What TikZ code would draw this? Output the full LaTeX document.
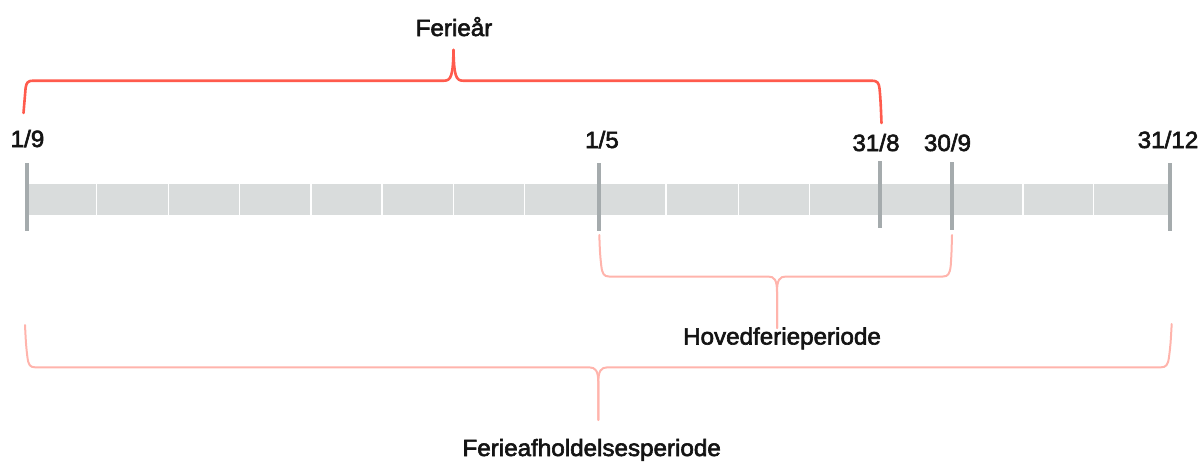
\documentclass[tikz,border=0pt]{standalone}
\usepackage{fontspec}
\setmainfont{Liberation Sans}[FakeBold=2.6, FakeStretch=1.03]
\definecolor{braceRed}{HTML}{FF5B4D}
\definecolor{bracePink}{HTML}{FFB4AC}
\definecolor{tickGray}{HTML}{A5ABAD}
\definecolor{barGray}{HTML}{D9DCDC}
\definecolor{labelInk}{HTML}{141414}
\tikzset{
  datelabel/.style={anchor=base, inner sep=0pt, text=labelInk,
    font=\fontsize{23.5}{28}\selectfont},
  periodlabel/.style={datelabel},
  tickmark/.style={draw=tickGray, line width=4.5pt},
  separator/.style={draw=white, line width=1.4pt},
  yearbrace/.style={draw=braceRed, line width=2.6pt, line cap=round, line join=round},
  periodbrace/.style={draw=bracePink, line width=2pt, line cap=round, line join=round},
}
\begin{document}
\begin{tikzpicture}[x=1pt, y=-1pt]
\useasboundingbox (0,0) rectangle (1200,461);

% timeline band
\fill[barGray] (27,184) rectangle (1170,215);
\foreach \sx in {96.5,168.5,239.5,311,382,453.5,524.5,666,738.5,809.5,1023,1093.5}
  \draw[separator] (\sx,184) -- (\sx,215);

% date ticks
\coordinate (d19t)  at (27,163);   \coordinate (d19b)  at (27,231);
\coordinate (d15t)  at (599,163);  \coordinate (d15b)  at (599,231);
\coordinate (d318t) at (880,161);  \coordinate (d318b) at (880,228);
\coordinate (d309t) at (952,162);  \coordinate (d309b) at (952,230);
\coordinate (d3112t) at (1170,163);\coordinate (d3112b) at (1170,231);
\draw[tickmark] (d19t) -- (d19b);
\draw[tickmark] (d15t) -- (d15b);
\draw[tickmark] (d318t) -- (d318b);
\draw[tickmark] (d309t) -- (d309b);
\draw[tickmark] (d3112t) -- (d3112b);

% date labels
\node[datelabel] (l19)   at (27.5,147) {1/9};
\node[datelabel] (l15)   at (602,148)  {1/5};
\node[datelabel] (l318)  at (876,151)  {31/8};
\node[datelabel] (l309)  at (947.5,151){30/9};
\node[datelabel] (l3112) at (1168,148) {31/12};

% period labels
\node[periodlabel] (ferieaar) at (454,36)     {Ferieår};
\node[periodlabel] (hoved)    at (782,344.5)  {Hovedferieperiode};
\node[periodlabel] (afhold)   at (591.7,456)  {Ferieafholdelsesperiode};

% brace ends and tips
\coordinate (fyL) at (23.5,113);  \coordinate (fyR) at (881.5,123);  \coordinate (fyT) at (453.5,50);
\coordinate (hpL) at (599.3,235); \coordinate (hpR) at (952,235);    \coordinate (hpT) at (777,328);
\coordinate (apL) at (25,325);    \coordinate (apR) at (1171.7,324); \coordinate (apT) at (598.3,420);

% Ferieaar brace (1/9 to 31/8)
\draw[yearbrace] (fyL) .. controls (24.3,100) .. (25.6,88)
  .. controls (26.4,82.5) and (28,80.7) .. (33,80.7) -- (444,80.7)
  .. controls (451,80.7) and (453,76) .. (fyT);
\draw[yearbrace] (fyT) .. controls (454,76) and (456,80.7) .. (463,80.7) -- (872,80.7)
  .. controls (877,80.7) and (879,82.5) .. (879.6,89) .. controls (880.6,101) .. (fyR);

% Hovedferieperiode brace (1/5 to 30/9)
\draw[periodbrace] (hpL) .. controls (600,254) .. (601.3,266)
  .. controls (602.3,274) and (604,276.5) .. (609,276.5) -- (768,276.5)
  .. controls (774.5,276.5) and (777,280) .. (777,292) -- (hpT);
\draw[periodbrace] (hpT) -- (777,292) .. controls (777,280) and (779.5,276.5) .. (786,276.5)
  -- (943,276.5) .. controls (948,276.5) and (949.7,274) .. (950.7,266)
  .. controls (951.5,254) .. (hpR);

% Ferieafholdelsesperiode brace (1/9 to 31/12)
\draw[periodbrace] (apL) .. controls (26,345) .. (27.4,357)
  .. controls (28.4,365) and (30,367.3) .. (35,367.3) -- (589,367.3)
  .. controls (595.8,367.3) and (598.3,371) .. (598.3,383) -- (apT);
\draw[periodbrace] (apT) -- (598.3,383) .. controls (598.3,371) and (600.8,367.3) .. (607.6,367.3)
  -- (1161,367.3) .. controls (1166,367.3) and (1168,365) .. (1169,357)
  .. controls (1170.5,345) .. (apR);
\end{tikzpicture}
\end{document}
